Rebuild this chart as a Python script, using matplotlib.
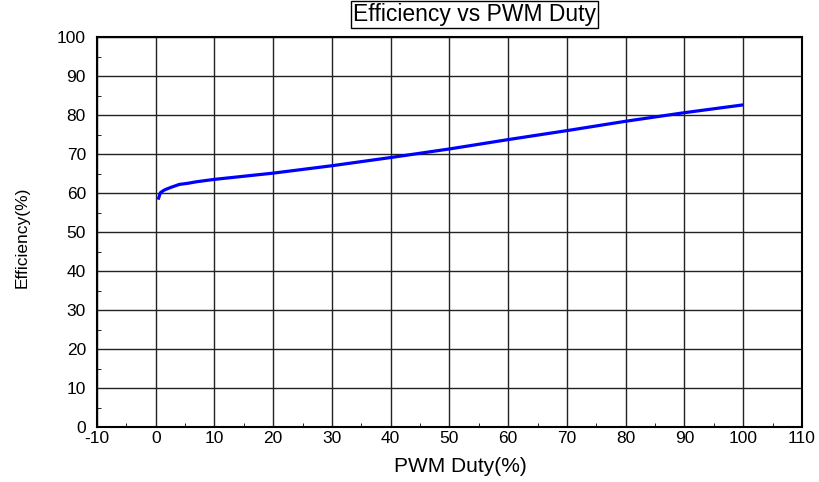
import matplotlib
matplotlib.use("Agg")
import matplotlib.pyplot as plt
from matplotlib.ticker import MultipleLocator

plt.rcParams['font.family'] = ['Liberation Sans', 'DejaVu Sans']
plt.rcParams['axes.unicode_minus'] = False

# data
duty = [0.4, 0.8, 1.5, 2.5, 4, 5.5, 7, 8.5, 10, 15, 20, 30, 40, 50, 60, 70, 80, 90, 100]
eff = [58.3, 60.1, 60.8, 61.4, 62.2, 62.5, 62.9, 63.2, 63.5, 64.3, 65.1, 67.0, 69.1, 71.3, 73.7, 76.0, 78.4, 80.6, 82.6]

xticks = list(range(-10, 111, 10))
yticks = list(range(0, 101, 10))

fig = plt.figure(figsize=(8.2, 4.82), dpi=100)
ax = fig.add_axes([0.1183, 0.1141, 0.8597, 0.8091])

ax.plot(duty, eff, color='#0000ff', lw=2.3, solid_capstyle='butt')

ax.set_xlim(-10, 110)
ax.set_ylim(0, 100)
ax.set_xticks(xticks)
ax.set_yticks(yticks)
ax.xaxis.set_minor_locator(MultipleLocator(5))
ax.yaxis.set_minor_locator(MultipleLocator(5))
ax.tick_params(which='both', direction='in', labelsize=12.5)
ax.tick_params(which='major', length=0)
ax.tick_params(axis='x', which='major', pad=3)
ax.tick_params(axis='y', which='major', pad=8)
ax.tick_params(which='minor', length=3)
ax.grid(True, which='major', color='#222222', lw=1)
for s in ax.spines.values():
    s.set_linewidth(1.5)

fig.text(0.562, 0.033, 'PWM Duty(%)', ha='center', va='center', fontsize=15)
fig.text(0.027, 0.508, 'Efficiency(%)', ha='center', va='center', rotation=90, fontsize=12.5)

fig.text(0.579, 0.970, 'Efficiency vs PWM Duty', ha='center', va='center', fontsize=16.5,
         bbox=dict(boxstyle='square,pad=0.08', fc='white', ec='black', lw=1))

fig.savefig('out.png', dpi=100)
